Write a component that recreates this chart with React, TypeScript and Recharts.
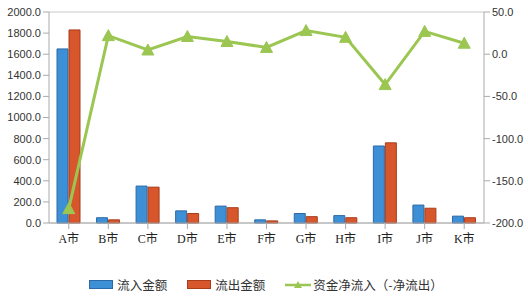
import React from 'react';
import {
  ComposedChart,
  Bar,
  Line,
  XAxis,
  YAxis,
  CartesianGrid,
  Legend,
} from 'recharts';

const cities = ['A市', 'B市', 'C市', 'D市', 'E市', 'F市', 'G市', 'H市', 'I市', 'J市', 'K市'];
const inflow = [1650, 50, 350, 115, 160, 30, 90, 70, 730, 170, 65];
const outflow = [1830, 30, 340, 90, 145, 20, 60, 50, 760, 140, 50];
const netFlow = [-183, 22, 5, 21, 15, 8, 28, 20, -36, 27, 13];

const leftTicks = [0, 200, 400, 600, 800, 1000, 1200, 1400, 1600, 1800, 2000];
const rightTicks = [-200, -150, -100, -50, 0, 50];

const data = cities.map((name, i) => ({
  name,
  inflow: inflow[i],
  outflow: outflow[i],
  net: netFlow[i],
}));

const BLUE = '#3d8fd6';
const RED = '#d8562c';
const GREEN = '#9bc652';

const Triangle = (props: any) => {
  const { cx, cy } = props;
  if (cx == null || cy == null) return null;
  return (
    <polygon
      points={`${cx},${cy - 6} ${cx - 6},${cy + 5} ${cx + 6},${cy + 5}`}
      fill={GREEN}
      stroke={GREEN}
    />
  );
};

const LegendBox = () => (
  <div
    style={{
      display: 'flex',
      justifyContent: 'center',
      alignItems: 'center',
      fontFamily: '"Noto Sans CJK SC", sans-serif',
      fontSize: 12.5,
      color: '#333',
      gap: 20,
      paddingLeft: 4,
      paddingTop: 21,
    }}
  >
    <span style={{ display: 'flex', alignItems: 'center' }}>
      <span style={{ width: 22, height: 7, background: BLUE, border: '1px solid #2b6aa6', marginRight: 4 }} />
      流入金额
    </span>
    <span style={{ display: 'flex', alignItems: 'center' }}>
      <span style={{ width: 22, height: 7, background: RED, border: '1px solid #a83d1c', marginRight: 4 }} />
      流出金额
    </span>
    <span style={{ display: 'flex', alignItems: 'center' }}>
      <svg width={26} height={10} style={{ marginRight: 2 }}>
        <line x1={0} y1={5} x2={26} y2={5} stroke={GREEN} strokeWidth={2.5} />
        <polygon points="13,1 9,8 17,8" fill={GREEN} />
      </svg>
      资金净流入（-净流出）
    </span>
  </div>
);

const tickStyle = { fontSize: 11, fill: '#333', fontFamily: '"Liberation Sans", Arial, sans-serif' };

export default function App() {
  return (
    <div style={{ position: 'absolute', left: 0, top: 0, width: 528, height: 298, background: '#fff' }}>
      <ComposedChart
        width={528}
        height={298}
        data={data}
        margin={{ top: 12, right: 0, left: 0, bottom: 4 }}
        barSize={11}
        barGap={1}
      >
        <CartesianGrid vertical={false} stroke="#c8c8c8" />
        <XAxis
          dataKey="name"
          stroke="#aaa"
          tickLine={{ stroke: '#aaa' }}
          tick={{ fontSize: 12, fill: '#222', fontFamily: '"Liberation Serif", "Noto Sans CJK SC", serif', dy: 3 }}
          height={31}
          interval={0}
        />
        <YAxis
          yAxisId="left"
          domain={[0, 2000]}
          ticks={leftTicks}
          width={49}
          stroke="#aaa"
          tick={tickStyle}
          tickFormatter={(v: number) => v.toFixed(1)}
        />
        <YAxis
          yAxisId="right"
          orientation="right"
          domain={[-200, 50]}
          ticks={rightTicks}
          width={44}
          stroke="#aaa"
          tick={tickStyle}
          tickFormatter={(v: number) => v.toFixed(1)}
        />
        <Legend verticalAlign="bottom" height={40} content={<LegendBox />} />
        <Bar yAxisId="left" dataKey="inflow" name="流入金额" fill={BLUE} stroke="#2b6aa6" isAnimationActive={false} />
        <Bar yAxisId="left" dataKey="outflow" name="流出金额" fill={RED} stroke="#a83d1c" isAnimationActive={false} />
        <Line
          yAxisId="right"
          dataKey="net"
          name="资金净流入（-净流出）"
          stroke={GREEN}
          strokeWidth={3}
          dot={<Triangle />}
          activeDot={false}
          type="linear"
          isAnimationActive={false}
        />
      </ComposedChart>
    </div>
  );
}
